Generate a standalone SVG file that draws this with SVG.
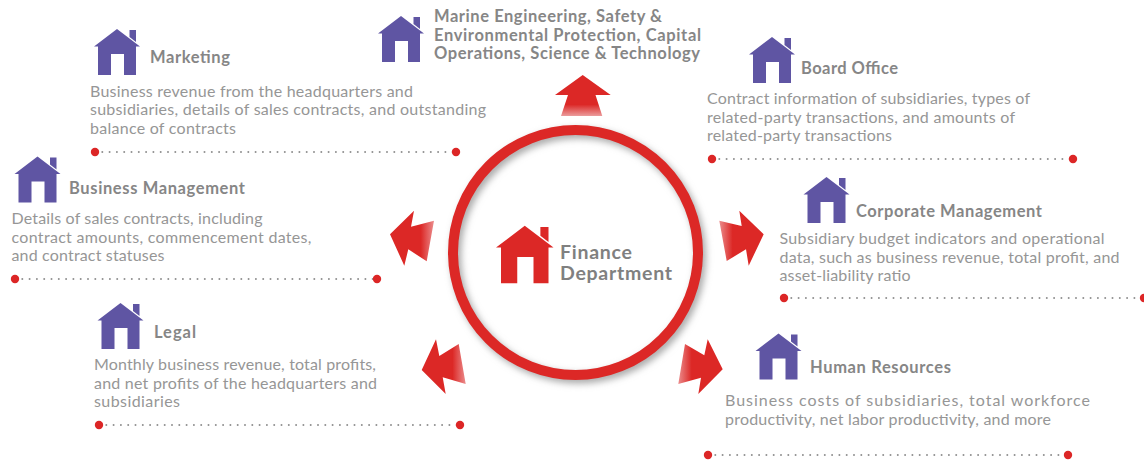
<svg xmlns="http://www.w3.org/2000/svg" width="1144" height="462" viewBox="0 0 1144 462">
<style>
text{font-family:Lato,"Noto Sans","Liberation Sans",sans-serif}
.t{font-size:16.500px;font-weight:700;fill:#868686}
.b{font-size:16px;fill:#969696}
.f{font-size:19.500px;font-weight:700;fill:#808080}
.dots{fill:none;stroke:#909090;stroke-width:2;stroke-linecap:round;stroke-dasharray:0 7.3}
.dot{fill:#dc2626}
.house{fill:#5f55a3}
</style>
<defs>
<g id="h">
<path d="M23 0L46 17.500H42V46H30V25H17V46H4V17.500H0Z"/>
<path d="M35.500 1H42V13L35.500 8Z"/>
</g>
<linearGradient id="gl" x1="1" y1="0" x2="0" y2="0"><stop offset="0" stop-color="#eb8c8c"/><stop offset=".3" stop-color="#dc2826"/></linearGradient>
<linearGradient id="gr" x1="0" y1="0" x2="1" y2="0"><stop offset="0" stop-color="#eb8c8c"/><stop offset=".3" stop-color="#dc2826"/></linearGradient>
<linearGradient id="gu" x1="0" y1="1" x2="0" y2="0"><stop offset="0" stop-color="#eb9c9c"/><stop offset=".28" stop-color="#dc2826"/></linearGradient>
<filter id="s" x="-20%" y="-20%" width="140%" height="140%"><feGaussianBlur stdDeviation="3.500"/></filter>
</defs>
<g id="connectors">
<polygon fill="url(#gu)" points="582.7,75 610.7,95 595.5,95 602.3,116 561,116 568,95 555,95"/>
<polygon fill="url(#gl)" points="390,234.3 414,210.7 411,226.7 434,220.7 426.7,261.3 408.3,249.3 404.3,265.7"/>
<polygon fill="url(#gl)" points="421.7,370 436,339.3 439.3,356 458.7,344 465.7,384 442.7,377.3 445.7,394"/>
<polygon fill="url(#gr)" points="763.7,234.3 739.3,210.7 741.7,226 719.3,220.7 726.7,261 746,249.3 748.7,265.7"/>
<polygon fill="url(#gr)" points="722.7,369.3 707.7,339.3 704.3,355.3 685,344 678.3,384 701,377.7 698.3,394"/>
</g>
<g id="finance">
<circle cx="578.5" cy="256" r="122.500" fill="none" stroke="#a8a8a8" stroke-width="10" filter="url(#s)"/>
<circle cx="575.500" cy="252.500" r="122.500" fill="none" stroke="#dc2826" stroke-width="10"/>
<use href="#h" transform="translate(496 225.700) scale(1.250)" fill="#dc2826"/>
<text class="f" x="560" y="259" textLength="72">Finance</text>
<text class="f" x="560" y="280" textLength="112">Department</text>
</g>
<g id="marine">
<use href="#h" class="house" x="378" y="16"/>
<text class="t" x="434" y="22" textLength="228">Marine Engineering, Safety &amp;</text>
<text class="t" x="434" y="41" textLength="267">Environmental Protection, Capital</text>
<text class="t" x="434" y="59" textLength="266">Operations, Science &amp; Technology</text>
</g>
<g id="marketing">
<use href="#h" class="house" x="94" y="29"/>
<text class="t" x="150" y="63" textLength="80">Marketing</text>
<text class="b" x="90" y="97" textLength="323">Business revenue from the headquarters and</text>
<text class="b" x="90" y="115" textLength="396">subsidiaries, details of sales contracts, and outstanding</text>
<text class="b" x="90" y="134" textLength="146">balance of contracts</text>
<path class="dots" d="M95 152H456"/><circle class="dot" cx="95" cy="152" r="4.200"/><circle class="dot" cx="456" cy="152" r="4.200"/>
</g>
<g id="board">
<use href="#h" class="house" x="749" y="37"/>
<text class="t" x="801" y="74" textLength="97">Board Office</text>
<text class="b" x="707" y="104" textLength="323">Contract information of subsidiaries, types of</text>
<text class="b" x="707" y="123" textLength="308">related-party transactions, and amounts of</text>
<text class="b" x="707" y="141" textLength="185">related-party transactions</text>
<path class="dots" d="M712 159H1073"/><circle class="dot" cx="712" cy="159" r="4.200"/><circle class="dot" cx="1073" cy="159" r="4.200"/>
</g>
<g id="business">
<use href="#h" class="house" x="14.500" y="156.500"/>
<text class="t" x="69" y="194" textLength="176">Business Management</text>
<text class="b" x="11.500" y="224" textLength="251">Details of sales contracts, including</text>
<text class="b" x="11.500" y="243" textLength="300">contract amounts, commencement dates,</text>
<text class="b" x="11.500" y="261" textLength="153">and contract statuses</text>
<path class="dots" d="M15 279H377"/><circle class="dot" cx="15" cy="279" r="4.200"/><circle class="dot" cx="377" cy="279" r="4.200"/>
</g>
<g id="corporate">
<use href="#h" class="house" x="803.500" y="177"/>
<text class="t" x="856" y="217" textLength="186">Corporate Management</text>
<text class="b" x="779.500" y="244" textLength="325">Subsidiary budget indicators and operational</text>
<text class="b" x="779.500" y="263" textLength="340">data, such as business revenue, total profit, and</text>
<text class="b" x="779.500" y="281" textLength="131">asset-liability ratio</text>
<path class="dots" d="M784 298H1144"/><circle class="dot" cx="784" cy="298" r="4.200"/><circle class="dot" cx="1144" cy="298" r="4.200"/>
</g>
<g id="legal">
<use href="#h" class="house" x="97.500" y="303"/>
<text class="t" x="154" y="338" textLength="42">Legal</text>
<text class="b" x="94" y="370" textLength="282">Monthly business revenue, total profits,</text>
<text class="b" x="94" y="389" textLength="283">and net profits of the headquarters and</text>
<text class="b" x="94" y="407" textLength="86">subsidiaries</text>
<path class="dots" d="M99 425H460"/><circle class="dot" cx="99" cy="425" r="4.200"/><circle class="dot" cx="460" cy="425" r="4.200"/>
</g>
<g id="hr">
<use href="#h" class="house" x="755.500" y="333.500"/>
<text class="t" x="810" y="373" textLength="141">Human Resources</text>
<text class="b" x="725" y="406" textLength="365">Business costs of subsidiaries, total workforce</text>
<text class="b" x="725" y="425" textLength="326">productivity, net labor productivity, and more</text>
<path class="dots" d="M708 455H1068"/><circle class="dot" cx="708" cy="455" r="4.200"/><circle class="dot" cx="1068" cy="455" r="4.200"/>
</g>
</svg>
